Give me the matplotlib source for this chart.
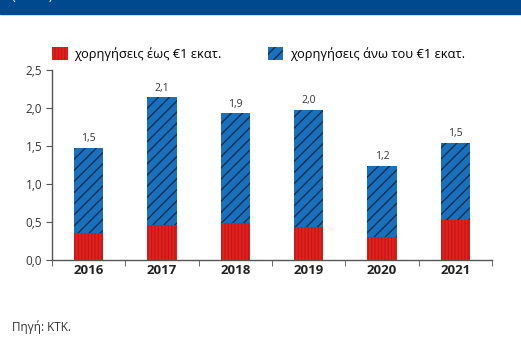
import matplotlib.pyplot as plt
from matplotlib.patches import Rectangle

years = ["2016", "2017", "2018", "2019", "2020", "2021"]
small = [0.36, 0.46, 0.49, 0.43, 0.30, 0.53]     # loans up to 1 mln
total = [1.48, 2.14, 1.93, 1.98, 1.24, 1.54]
large = [t - s for t, s in zip(total, small)]     # loans above 1 mln
yticks = [0.0, 0.5, 1.0, 1.5, 2.0, 2.5]

RED = "#e2231a"
BLUE = "#1b70bb"
plt.rcParams['font.family'] = ['Open Sans', 'DejaVu Sans']
plt.rcParams['hatch.linewidth'] = 1.0

fig = plt.figure(figsize=(5.21, 3.37), dpi=100)

# header band
fig.patches.append(Rectangle((0, 1 - 14 / 337), 1, 14 / 337, transform=fig.transFigure,
                             color="#00498f", zorder=0))
fig.text(12 / 521, 1 + 4 / 337, "(€ δισ.)", color="white", fontsize=9, va="center")

ax = fig.add_axes([52 / 521, 77 / 337, 440 / 521, 190 / 337])
x = range(len(years))

plt.rcParams['hatch.color'] = "#c4161c"
b1 = ax.bar(x, small, width=0.4, color=RED, hatch="|||||", edgecolor="#c9161b", linewidth=0,
            label="χορηγήσεις έως €1 εκατ.")
plt.rcParams['hatch.color'] = "#0f3158"
b2 = ax.bar(x, large, bottom=small, width=0.4, color=BLUE, hatch="///", edgecolor="#0f3158",
            linewidth=0, label="χορηγήσεις άνω του €1 εκατ.")

for i, t in enumerate(total):
    ax.text(i, t + 0.05, f"{t:.1f}".replace(".", ","), ha="center", va="bottom",
            fontsize=7.5, color="#333333")

ax.set_xlim(-0.5, len(years) - 0.5)
ax.set_ylim(0, 2.5)
ax.set_yticks(yticks)
ax.set_yticklabels([f"{v:.1f}".replace(".", ",") for v in yticks], fontsize=8.5, color="#333333")
ax.set_xticks(list(x))
ax.set_xticklabels(years, fontsize=9.5, fontweight="bold", color="#222222")
ax.set_xticks([i + 0.5 for i in range(-1, len(years))], minor=True)
ax.tick_params(axis="x", which="major", length=0, pad=3)
ax.tick_params(axis="x", which="minor", length=4, color="#555555", direction="out")
ax.tick_params(axis="y", length=4, color="#555555", direction="out", pad=3)

for s in ["top", "right"]:
    ax.spines[s].set_visible(False)
for s in ["left", "bottom"]:
    ax.spines[s].set_color("#555555")
    ax.spines[s].set_linewidth(1.0)

fig.legend(handles=[b1, b2], loc="center left", bbox_to_anchor=(52 / 521, 1 - 54 / 337),
           ncol=2, frameon=False, fontsize=9.3, handlelength=1.2, handleheight=1.1,
           handletextpad=0.5, columnspacing=3.6, borderaxespad=0, borderpad=0)

fig.text(12 / 521, 1 - 327 / 337, "Πηγή: ΚΤΚ.", fontsize=8.5, color="#333333", va="center")

fig.savefig("out.png", dpi=100)
